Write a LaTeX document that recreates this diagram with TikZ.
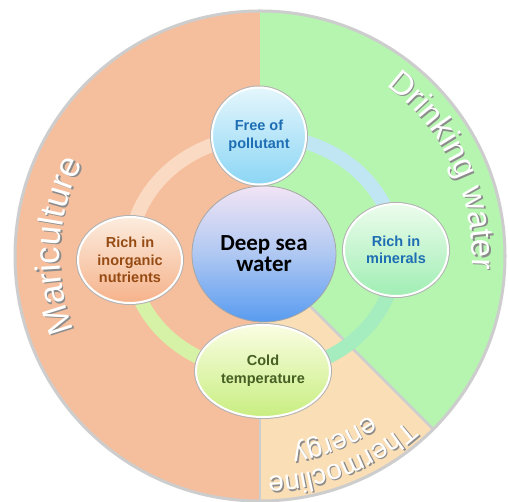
\documentclass[tikz,border=0pt]{standalone}
\usepackage{fontspec}
\setmainfont{Liberation Sans}[BoldFont={* Bold}]
\newfontfamily\titlefont{Carlito}[BoldFont={* Bold}]
\usetikzlibrary{shapes.geometric,decorations.text,calc}

\definecolor{mariOrange}{RGB}{245,191,157}
\definecolor{drinkGreen}{RGB}{182,245,176}
\definecolor{thermoPeach}{RGB}{250,222,182}
\definecolor{rimGray}{RGB}{205,205,205}
\definecolor{ringCream}{RGB}{250,218,195}
\definecolor{ringBlue}{RGB}{192,230,244}
\definecolor{ringMint}{RGB}{165,236,190}
\definecolor{ringLime}{RGB}{214,242,166}
\definecolor{txtBlue}{RGB}{30,110,180}
\definecolor{txtBrown}{RGB}{150,75,20}
\definecolor{txtOlive}{RGB}{70,95,35}
\definecolor{labelShade}{RGB}{140,140,140}

\newcommand\marifont{\fontsize{35}{40}\selectfont}
\newcommand\drinkfont{\fontsize{33}{38}\selectfont}
\newcommand\thermofont{\fontsize{28}{32}\selectfont}

\tikzset{
  sat/.style={ellipse, inner sep=0pt, align=center,
    font=\bfseries\fontsize{14.5}{17.5}\selectfont,
    preaction={draw=black!30, line width=4pt},
    draw=white, line width=2pt},
  band/.style={line width=14pt},
  divider/.style={draw=rimGray, line width=2.5pt},
}

\begin{document}
\begin{tikzpicture}[x=1pt,y=1pt]
\useasboundingbox[fill=white] (0,0) rectangle (508,502);

\coordinate (C) at (260,246);
\coordinate (Cs) at (261.5,244.5);
\coordinate (R) at (263,248);

% three application sectors
\fill[mariOrange] (C) -- ++(90:245) arc[start angle=90, end angle=270, radius=245] -- cycle;
\fill[drinkGreen] (C) -- ++(-45:245) arc[start angle=-45, end angle=90, radius=245] -- cycle;
\fill[thermoPeach] (C) -- ++(-90:245) arc[start angle=-90, end angle=-45, radius=245] -- cycle;
\draw[divider] (C) -- ++(-45:245);
\draw[divider] (C) -- ++(-90:245);
\draw[rimGray, line width=3pt] (C) circle[radius=245];

% sector labels along the rim: a grey drop shadow, then the white lettering
\path[decorate, decoration={text along path, text align=center,
  text={|\color{labelShade}\marifont|Mariculture}}]
  ($(Cs)+(237:200)$) arc[start angle=237, end angle=117, radius=200];
\path[decorate, decoration={text along path, text align=center,
  text={|\color{white}\marifont|Mariculture}}]
  ($(C)+(237:200)$) arc[start angle=237, end angle=117, radius=200];

\path[decorate, decoration={text along path, text align=center,
  text={|\color{labelShade}\drinkfont|Drinking water}}]
  ($(Cs)+(85:212)$) arc[start angle=85, end angle=-35, radius=212];
\path[decorate, decoration={text along path, text align=center,
  text={|\color{white}\drinkfont|Drinking water}}]
  ($(C)+(85:212)$) arc[start angle=85, end angle=-35, radius=212];

\path[decorate, decoration={text along path, text align=center,
  text={|\color{labelShade}\thermofont|Thermocline}}]
  ($(Cs)+(-8:221)$) arc[start angle=-8, end angle=-128, radius=221];
\path[decorate, decoration={text along path, text align=center,
  text={|\color{white}\thermofont|Thermocline}}]
  ($(C)+(-8:221)$) arc[start angle=-8, end angle=-128, radius=221];
\path[decorate, decoration={text along path, text align=center,
  text={|\color{labelShade}\thermofont|energy}}]
  ($(Cs)+(-8:194)$) arc[start angle=-8, end angle=-128, radius=194];
\path[decorate, decoration={text along path, text align=center,
  text={|\color{white}\thermofont|energy}}]
  ($(C)+(-8:194)$) arc[start angle=-8, end angle=-128, radius=194];

% ring linking the properties
\draw[band, ringBlue]  ($(R)+(0:133 and 118)$)   arc[start angle=0,   end angle=90,  x radius=133, y radius=118];
\draw[band, ringCream] ($(R)+(90:133 and 118)$)  arc[start angle=90,  end angle=180, x radius=133, y radius=118];
\draw[band, ringLime]  ($(R)+(180:133 and 118)$) arc[start angle=180, end angle=270, x radius=133, y radius=118];
\draw[band, ringMint]  ($(R)+(270:133 and 118)$) arc[start angle=270, end angle=360, x radius=133, y radius=118];

% central node
\node[ellipse, minimum width=144pt, minimum height=136pt, inner sep=0pt, align=center,
  top color={rgb,255:red,242;green,228;blue,245}, bottom color={rgb,255:red,88;green,155;blue,240},
  middle color={rgb,255:red,175;green,200;blue,242},
  draw=black!35, line width=0.8pt,
  font=\titlefont\bfseries\fontsize{23}{21}\selectfont]
  (dsw) at (264,248) {Deep sea\\water};

% property nodes
\node[sat, minimum width=94pt, minimum height=97pt,
  top color={rgb,255:red,228;green,246;blue,252}, bottom color={rgb,255:red,140;green,214;blue,245},
  text=txtBlue] (free) at (259,366) {Free of\\pollutant};
\node[sat, minimum width=104pt, minimum height=86pt,
  top color={rgb,255:red,252;green,236;blue,222}, bottom color={rgb,255:red,245;green,178;blue,138},
  text=txtBrown] (nutr) at (130,242) {Rich in\\inorganic\\nutrients};
\node[sat, minimum width=104pt, minimum height=92pt,
  top color={rgb,255:red,236;green,252;blue,236}, bottom color={rgb,255:red,160;green,238;blue,180},
  text=txtBlue] (mine) at (396,252) {Rich in\\minerals};
\node[sat, minimum width=134pt, minimum height=92pt,
  top color={rgb,255:red,250;green,253;blue,226}, bottom color={rgb,255:red,200;green,238;blue,128},
  text=txtOlive] (cold) at (263,131) {Cold\\temperature};
\end{tikzpicture}
\end{document}
